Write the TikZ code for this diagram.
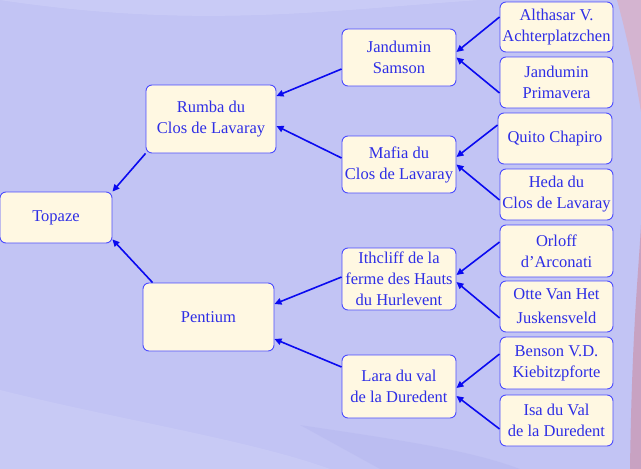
\documentclass[tikz,border=0pt]{standalone}
\usepackage{fontspec}
\setmainfont{Liberation Serif}
\usetikzlibrary{arrows.meta,calc}
\definecolor{bgblue}{HTML}{C2C4F4}
\definecolor{bglight}{HTML}{CDCFF7}
\definecolor{bgdark}{HTML}{B6B8EF}
\definecolor{pinkbg}{HTML}{D4B4D0}
\definecolor{pinkdark}{HTML}{C8A2C2}
\definecolor{boxfill}{HTML}{FFF8E2}
\definecolor{boxline}{HTML}{4C4CFF}
\definecolor{txt}{HTML}{2E2EE6}
\definecolor{arr}{HTML}{0A0AF0}
\tikzset{
  pbox/.style={draw=boxline, line width=0.9pt, fill=boxfill, rounded corners=6pt,
    text=txt, align=center, inner sep=0pt,
    font=\fontsize{16.5}{21}\selectfont},
  link/.style={draw=arr, line width=1.6pt, -{Triangle[length=7pt,width=6.5pt]}}
}
\begin{document}
\begin{tikzpicture}[x=1pt,y=-1pt]
\useasboundingbox (0,0) rectangle (641,469);
% background
\fill[bgblue] (0,0) rectangle (641,469);
\fill[bglight,opacity=0.7] (0,0) .. controls (200,30) and (330,10) .. (480,0) -- cycle;
\fill[bglight,opacity=0.6] (0,390) .. controls (120,420) and (250,440) .. (330,469) -- (0,469) -- cycle;
\fill[bgdark,opacity=0.5] (300,425) .. controls (400,440) and (470,450) .. (520,469) -- (380,469) -- cycle;
\fill[pinkbg] (617,0) .. controls (628,40) and (636,80) .. (641,112) -- (641,0) -- cycle;
\fill[pinkdark] (641,225) .. controls (638,280) and (632,330) .. (630,469) -- (641,469) -- cycle;
% nodes
\node[pbox, minimum width=112pt, minimum height=51pt] (topaze) at (56,217.5) {Topaze};
\node[pbox, minimum width=130pt, minimum height=68pt] (rumba) at (211,119) {Rumba du\\Clos de Lavaray};
\node[pbox, minimum width=131pt, minimum height=68pt] (pentium) at (208.5,317) {Pentium};
\node[pbox, minimum width=114pt, minimum height=57pt] (samson) at (399,57.5) {Jandumin\\Samson};
\node[pbox, minimum width=114pt, minimum height=57pt] (mafia) at (399,164.5) {Mafia du\\Clos de Lavaray};
\node[pbox, minimum width=114pt, minimum height=62pt] (ithcliff) at (399,279) {Ithcliff de la\\ferme des Hauts\\du Hurlevent};
\node[pbox, minimum width=114pt, minimum height=63pt] (lara) at (399,386.5) {Lara du val\\de la Duredent};
\node[pbox, minimum width=113pt, minimum height=50pt] (althasar) at (556.5,27) {Althasar V.\\Achterplatzchen};
\node[pbox, minimum width=113pt, minimum height=51pt] (primavera) at (556.5,82.5) {Jandumin\\Primavera};
\node[pbox, minimum width=114pt, minimum height=51pt] (quito) at (555,138.5) {Quito Chapiro};
\node[pbox, minimum width=113pt, minimum height=51pt] (heda) at (556.5,194.5) {Heda du\\Clos de Lavaray};
\node[pbox, minimum width=113pt, minimum height=52pt] (orloff) at (556.5,251) {Orloff\\d’Arconati};
\node[pbox, minimum width=113pt, minimum height=51pt, font=\fontsize{16.5}{24}\selectfont] (otte) at (556.5,306.5) {Otte Van Het\\Juskensveld};
\node[pbox, minimum width=113pt, minimum height=52pt] (benson) at (556.5,363) {Benson V.D.\\Kiebitzpforte};
\node[pbox, minimum width=113pt, minimum height=51pt] (isa) at (556.5,420.5) {Isa du Val\\de la Duredent};
% connectors
\draw[link] ([yshift=-11.5pt]samson.west) -- ([yshift=23pt]rumba.east);
\draw[link] ([yshift=6.5pt]mafia.west) -- ([yshift=-7pt]rumba.east);
\draw[link] (rumba.south west) -- (topaze.north east);
\draw[link] ([xshift=10pt]pentium.north west) -- ([yshift=4pt]topaze.south east);
\draw[link] ([yshift=2pt]ithcliff.west) -- ([yshift=13pt]pentium.east);
\draw[link] ([yshift=19.5pt]lara.west) -- ([yshift=-22pt]pentium.east);
\draw[link] ([yshift=10pt]althasar.west) -- ([yshift=5.5pt]samson.east);
\draw[link] ([yshift=-10.5pt]primavera.west) -- (samson.east);
\draw[link] ([yshift=13.5pt]quito.west) -- ([yshift=7.5pt]mafia.east);
\draw[link] ([yshift=-5.5pt]heda.west) -- (mafia.east);
\draw[link] ([yshift=9pt]orloff.west) -- ([yshift=4pt]ithcliff.east);
\draw[link] ([yshift=-11.5pt]otte.west) -- ([yshift=-3pt]ithcliff.east);
\draw[link] ([yshift=9pt]benson.west) -- ([yshift=-1.5pt]lara.east);
\draw[link] ([yshift=-8.5pt]isa.west) -- ([yshift=-9.5pt]lara.east);
\end{tikzpicture}
\end{document}
